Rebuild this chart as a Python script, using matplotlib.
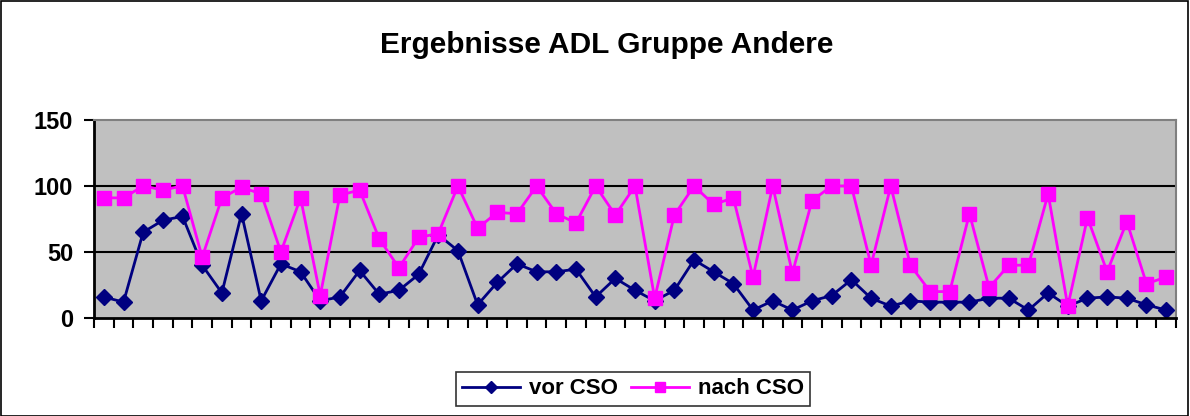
import matplotlib
matplotlib.use("Agg")
import matplotlib.pyplot as plt
from matplotlib.patches import Rectangle
import numpy as np

plt.rcParams['font.family'] = ['Liberation Sans', 'DejaVu Sans']

categories = list(range(1, 56))
vor_cso = [16, 12, 65, 74, 77, 40, 19, 79, 13, 41, 35, 13, 16, 36, 18, 21, 33, 63, 51, 10,
           27, 41, 35, 35, 37, 16, 30, 21, 13, 21, 44, 35, 26, 6, 13, 6, 13, 17, 29, 15,
           9, 13, 12, 12, 12, 15, 15, 6, 19, 9, 15, 16, 15, 10, 6]
nach_cso = [91, 91, 100, 97, 100, 46, 91, 99, 94, 50, 91, 17, 93, 97, 60, 38, 61, 64, 100, 68,
            80, 79, 100, 79, 72, 100, 78, 100, 15, 78, 100, 86, 91, 31, 100, 34, 89, 100, 100, 40,
            100, 40, 20, 20, 79, 23, 40, 40, 94, 9, 76, 35, 73, 26, 31]
yticks = [0, 50, 100, 150]
title = "Ergebnisse ADL Gruppe Andere"
labels = ["vor CSO", "nach CSO"]

fig = plt.figure(figsize=(11.9, 4.16), dpi=100)
fig.patches.append(Rectangle((0.0008, 0.0012), 0.9975, 0.997, transform=fig.transFigure,
                             fill=False, edgecolor='black', linewidth=1.2))
ax = fig.add_axes([94/1190, 1-318/416, (1176-94)/1190, (318-120)/416])
ax.set_facecolor('#C0C0C0')

x = np.array(categories)
ax.plot(x, vor_cso, color='#000080', marker='D', markersize=8.5, linewidth=2, label=labels[0],
        markeredgecolor='#000080')
ax.plot(x, nach_cso, color='#FF00FF', marker='s', markersize=9.5, linewidth=2, label=labels[1],
        markeredgecolor='#FF00FF')

ax.set_xlim(0.5, 55.5)
ax.set_ylim(0, 150)
ax.set_yticks(yticks)
ax.set_yticklabels([str(v) for v in yticks], fontsize=17, fontweight='bold')
ax.set_xticks(np.arange(0.5, 56, 1))
ax.set_xticklabels([])
for g in [50, 100]:
    ax.axhline(g, color='black', linewidth=1.5, zorder=1)

ax.tick_params(axis='x', direction='out', length=7, width=1.5, color='black')
ax.tick_params(axis='y', direction='out', length=7, width=1.5, color='black', pad=8)
ax.spines['left'].set_linewidth(2)
ax.spines['bottom'].set_linewidth(2)
ax.spines['top'].set_color('#808080')
ax.spines['right'].set_color('#808080')
ax.spines['top'].set_linewidth(1.5)
ax.spines['right'].set_linewidth(1.5)

fig.text(607/1190, 1-45/416, title, ha='center', va='center', fontsize=21.5, fontweight='bold')

leg = fig.legend(loc='center', bbox_to_anchor=(633/1190, 1-389/416), ncol=2,
                 prop={'size': 16, 'weight': 'bold'}, frameon=True, fancybox=False,
                 edgecolor='black', handlelength=2.6, columnspacing=0.6, handletextpad=0.4,
                 borderpad=0.3, markerscale=0.75)
leg.get_frame().set_linewidth(1.2)

fig.savefig("out.png", dpi=100)
